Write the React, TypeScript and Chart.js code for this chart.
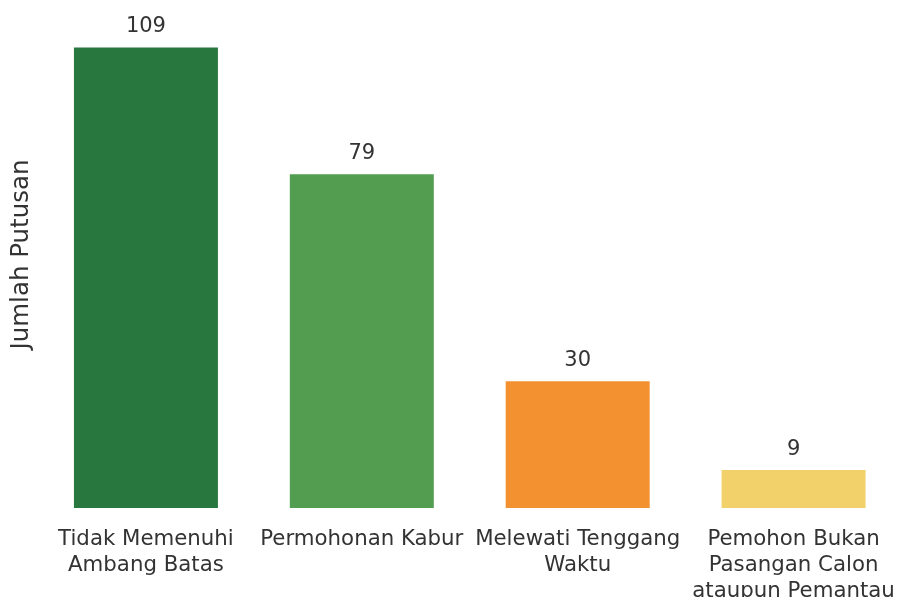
import React, { useEffect, useRef } from "react";
import { Chart, registerables } from "chart.js";

Chart.register(...registerables);

const categories: string[][] = [
  ["Tidak Memenuhi", "Ambang Batas"],
  ["Permohonan Kabur"],
  ["Melewati Tenggang", "Waktu"],
  ["Pemohon Bukan", "Pasangan Calon", "ataupun Pemantau"],
];
const values: number[] = [109, 79, 30, 9];
const colors: string[] = ["#28773f", "#539d51", "#f3902f", "#f2d06a"];
const yTitle = "Jumlah Putusan";

const FONT = "'DejaVu Sans', Verdana, sans-serif";
const TEXT = "#333333";

const valueLabels = {
  id: "valueLabels",
  afterDatasetsDraw(chart: any) {
    const ctx = chart.ctx;
    const meta = chart.getDatasetMeta(0);
    ctx.save();
    ctx.font = `21px ${FONT}`;
    ctx.fillStyle = TEXT;
    ctx.textAlign = "center";
    ctx.textBaseline = "alphabetic";
    meta.data.forEach((bar: any, i: number) => {
      ctx.fillText(String(chart.data.datasets[0].data[i]), bar.x, bar.y - 15);
    });
    ctx.restore();
  },
};

export default function App() {
  const ref = useRef<HTMLCanvasElement | null>(null);
  useEffect(() => {
    if (!ref.current) return;
    const chart = new Chart(ref.current, {
      type: "bar",
      data: {
        labels: categories,
        datasets: [
          {
            data: values,
            backgroundColor: colors,
            borderWidth: 0,
            categoryPercentage: 1,
            barPercentage: 0.667,
          },
        ],
      },
      options: {
        animation: false,
        responsive: false,
        maintainAspectRatio: false,
        layout: { padding: { top: 1, right: 8.5, left: 0, bottom: 0 } },
        plugins: {
          legend: { display: false },
          tooltip: { enabled: false },
        },
        scales: {
          x: {
            grid: { display: false, drawTicks: false },
            border: { display: false },
            ticks: {
              color: TEXT,
              font: { family: FONT, size: 21.3, lineHeight: 1.23 },
              padding: 18,
              maxRotation: 0,
              autoSkip: false,
            },
            afterFit: (scale: any) => {
              scale.height = 640 - 1 - 507;
              scale.paddingLeft = 0;
              scale.paddingRight = 0;
            },
          },
          y: {
            min: 0,
            max: 120,
            grid: { display: false, drawTicks: false },
            border: { display: false },
            ticks: { display: false },
            title: {
              display: true,
              text: yTitle,
              color: TEXT,
              font: { family: FONT, size: 24.5 },
              padding: { top: 7, bottom: 0 },
            },
            afterFit: (scale: any) => {
              scale.width = 38;
              scale.paddingTop = 0;
              scale.paddingBottom = 0;
            },
          },
        },
      },
      plugins: [valueLabels],
    });
    return () => chart.destroy();
  }, []);
  return (
    <div style={{ position: "absolute", left: 0, top: 0, width: 910, height: 640, background: "#fff" }}>
      <canvas ref={ref} width={910} height={640} style={{ display: "block" }} />
    </div>
  );
}
